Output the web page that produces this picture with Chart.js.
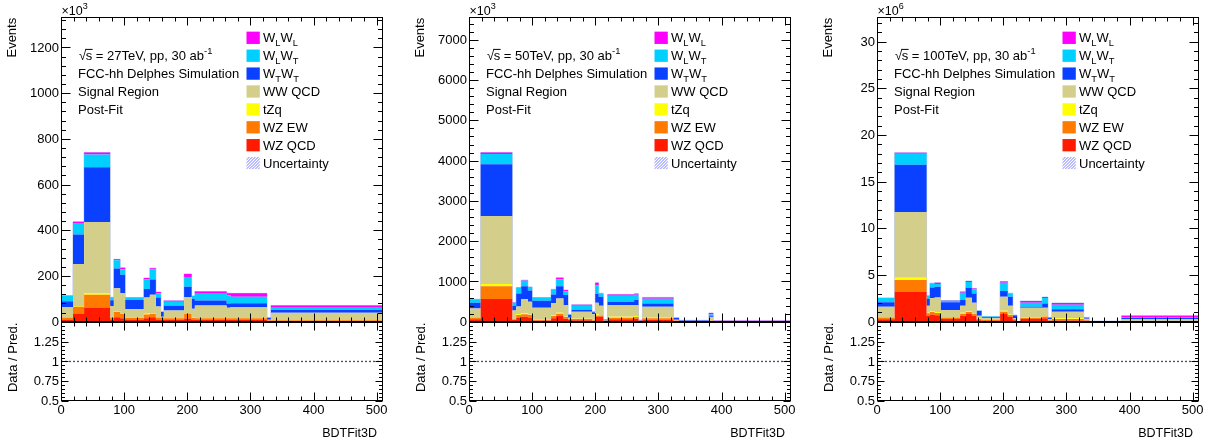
<!DOCTYPE html>
<html><head><meta charset="utf-8">
<script src="https://cdn.jsdelivr.net/npm/chart.js@4.4.1/dist/chart.umd.min.js"></script>
<style>
html,body{margin:0;padding:0;background:#fff;overflow:hidden;width:1205px;height:443px;position:relative;}
canvas{position:absolute;}
</style></head><body>
<canvas id="t0"></canvas><canvas id="t1"></canvas><canvas id="t2"></canvas>
<canvas id="r0"></canvas><canvas id="r1"></canvas><canvas id="r2"></canvas>
<script>
// ---------------- data ----------------
const seriesLabels = ['WZ QCD', 'WZ EW', 'tZq', 'WW QCD', 'W_TW_T', 'W_LW_T', 'W_LW_L'];
const energies = ['27TeV', '50TeV', '100TeV'];
const yExponents = ['3', '3', '6'];
const xTickLabels = [0, 100, 200, 300, 400, 500];
const ratioTickLabels = [0.5, 0.75, 1, 1.25];

// sqrt(s) = 27 TeV  (Events x10^3)
const edges27 = [0, 19, 36.6, 77.8, 83.7, 93.7, 101.6, 131.2, 140.7, 150.2, 158.1, 162.9, 195, 206.8, 212, 262.3, 268.6, 326.2, 332.5, 510];
const wzQCD27 = [10, 36, 62, 10, 19, 15, 10, 15, 20, 10, 8, 7, 14, 8, 7, 7, 7, 3, 3];
const wzEW27  = [8, 29, 56, 8, 25, 20, 7, 16, 15, 8, 10, 8, 22, 8, 8, 8, 8, 3, 3];
const tZq27   = [1, 4, 8, 1, 3, 1, 1, 4, 3, 1, 1, 1, 2, 1, 1, 1, 1, 0, 1];
const wwQCD27 = [45, 183, 310, 50, 99, 88, 37, 71, 80, 47, 3, 33, 70, 40, 55, 45, 48, 2, 32];
const wTwT27  = [26, 130, 240, 25, 87, 81, 41, 37, 67, 40, 20, 21, 45, 43, 22, 19, 17, 8, 12];
const wLwT27  = [23, 50, 56, 12, 36, 25, 9, 42, 43, 18, 2, 17, 43, 12, 29, 36, 28, 2, 10];
const wLwL27  = [1, 5, 8, 1, 4, 6, 1, 6, 6, 6, 0, 5, 13, 1, 10, 9, 15, 0, 10];
const yTicks27 = [0, 200, 400, 600, 800, 1000, 1200];

// sqrt(s) = 50 TeV  (Events x10^3)
const edges50 = [0, 18.5, 68.5, 74.8, 82.7, 93.2, 100, 130, 138, 149.5, 156.9, 162.6, 194.8, 200, 205.3, 212.7, 219.5, 261.6, 268.4, 274.7, 323.7, 332.6, 380, 386.8, 510];
const wzQCD50 = [58, 565, 40, 107, 124, 107, 25, 83, 141, 75, 40, 33, 20, 124, 124, 15, 58, 75, 10, 50, 20, 5, 15, 2];
const wzEW50  = [37, 315, 20, 58, 58, 58, 25, 57, 57, 41, 25, 33, 15, 33, 33, 10, 41, 41, 8, 33, 10, 4, 10, 2];
const tZq50   = [5, 55, 3, 25, 25, 10, 16, 25, 25, 8, 3, 5, 2, 25, 5, 1, 25, 25, 1, 16, 1, 0, 1, 0];
const wwQCD50 = [230, 1690, 218, 190, 355, 321, 281, 297, 355, 289, 30, 177, 150, 289, 234, 5, 289, 272, 5, 273, 20, 8, 90, 8];
const wTwT50  = [140, 1285, 115, 322, 321, 280, 173, 215, 305, 248, 70, 41, 50, 214, 224, 15, 82, 124, 12, 82, 40, 8, 20, 2];
const wLwT50  = [83, 255, 74, 140, 132, 83, 75, 123, 174, 91, 12, 107, 12, 223, 82, 4, 149, 132, 3, 116, 8, 7, 45, 3];
const wLwL50  = [5, 35, 5, 5, 17, 5, 5, 5, 33, 33, 2, 25, 1, 58, 5, 0, 33, 25, 1, 33, 1, 1, 35, 8];
const yTicks50 = [0, 1000, 2000, 3000, 4000, 5000, 6000, 7000];

// sqrt(s) = 100 TeV  (Events x10^6)
const edges100 = [0, 28, 78.5, 83.8, 91.2, 100.8, 131.6, 140.6, 150.2, 157.6, 165.6, 195, 207, 215, 221.8, 227.1, 261.6, 270.7, 277, 327.4, 336, 387.4, 510];
const wzQCD100 = [0.25, 3.18, 0.6, 0.78, 0.68, 0.29, 0.61, 0.82, 0.64, 0.15, 0.08, 0.82, 0.53, 0.15, 0, 0.29, 0.36, 0.08, 0.14, 0.05, 0.01, 0.02];
const wzEW100  = [0.2, 1.28, 0.3, 0.25, 0.25, 0.16, 0.25, 0.21, 0.22, 0.15, 0.1, 0.25, 0.2, 0.1, 0, 0.14, 0.2, 0.07, 0.15, 0.1, 0.03, 0.04];
const tZq100   = [0.02, 0.25, 0.05, 0.07, 0.1, 0.02, 0.1, 0.11, 0.07, 0.02, 0.01, 0.11, 0.05, 0.01, 0, 0.07, 0.04, 0.01, 0.07, 0.01, 0, 0.01];
const wwQCD100 = [1.14, 7.05, 0.75, 1.43, 1.57, 0.78, 0.75, 1.43, 1.1, 0.32, 0.18, 1.49, 0.93, 0.1, 0, 1.0, 0.9, 0.1, 0.71, 0.15, 0.01, 0.22];
const wTwT100  = [0.46, 5.06, 0.75, 1.14, 1.14, 0.82, 0.61, 1.07, 1.0, 0.5, 0.1, 0.61, 0.96, 0.3, 0, 0.1, 0.46, 0.15, 0.25, 0.1, 0.01, 0.11];
const wLwT100  = [0.46, 1.17, 0.3, 0.43, 0.29, 0.18, 0.78, 0.6, 0.43, 0.04, 0.08, 0.89, 0.36, 0.05, 0, 0.43, 0.57, 0.04, 0.5, 0.05, 0, 0.11];
const wLwL100  = [0.02, 0.11, 0.02, 0.03, 0.14, 0.02, 0.11, 0.11, 0.1, 0, 0.01, 0.14, 0.02, 0, 0, 0.18, 0.11, 0, 0.18, 0, 0, 0.14];
const yTicks100 = [0, 5, 10, 15, 20, 25, 30];

// ratio reference line
const ratioX = [0, 510];
const ratioY = [1, 1];

// ---------------- style ----------------
const FONT = '"Liberation Sans", Arial, Helvetica, sans-serif';
const seriesColors = ['#ff1a00', '#ff7a00', '#ffff00', '#d3cf8b', '#0a40ff', '#00d0ff', '#ff00ff'];
const panelCfg = [
  { L: 61.2,  edges: edges27,  series: [wzQCD27, wzEW27, tZq27, wwQCD27, wTwT27, wLwT27, wLwL27], yTicks: yTicks27, yMax: 1332, yMajor: 200, yMinor: 40 },
  { L: 469.3, edges: edges50,  series: [wzQCD50, wzEW50, tZq50, wwQCD50, wTwT50, wLwT50, wLwL50], yTicks: yTicks50, yMax: 7560, yMajor: 1000, yMinor: 200 },
  { L: 876.7, edges: edges100, series: [wzQCD100, wzEW100, tZq100, wwQCD100, wTwT100, wLwT100, wLwL100], yTicks: yTicks100, yMax: 32.6, yMajor: 5, yMinor: 1 }
];
const FRAME_W = 322, AXW = 60, PADR = 6, TOP_Y = 17.3, BOT_Y = 321.7, R_TOP = 322.2, R_BOT = 400.7;

function stepData(edges, vals) {
  const pts = vals.map((v, i) => ({ x: edges[i], y: v }));
  pts.push({ x: edges[edges.length - 1], y: vals[vals.length - 1] });
  return pts;
}

function rich(ctx, x, y, parts, size) {
  for (const [t, k] of parts) {
    const fs = k === 'n' ? size : size * 0.72;
    const dy = k === 'sub' ? size * 0.3 : (k === 'sup' ? -size * 0.45 : 0);
    ctx.font = fs + 'px ' + FONT;
    ctx.fillText(t, x, y + dy);
    x += ctx.measureText(t).width;
  }
  return x;
}
function labelParts(lbl) {
  if (lbl.startsWith('W_')) {
    return [['W', 'n'], [lbl[2], 'sub'], ['W', 'n'], [lbl[5], 'sub']];
  }
  return [[lbl, 'n']];
}

const isMult = (v, s) => Math.abs(v / s - Math.round(v / s)) < 1e-6;

const rootFrame = {
  id: 'rootFrame',
  afterDatasetsDraw(chart, args, o) {
    const { ctx, chartArea: a, scales } = chart;
    const xs = scales.x, ys = scales.y;
    ctx.save();
    ctx.strokeStyle = '#000';
    ctx.lineWidth = 1;
    const l = Math.round(a.left) + 0.5, r = Math.round(a.right) - 0.5;
    const t = Math.round(a.top) + 0.5, b = Math.round(a.bottom) - 0.5;
    ctx.strokeRect(l, t, r - l, b - t);
    ctx.beginPath();
    const nx = Math.round((xs.max - xs.min) / o.xMinor);
    for (let i = 0; i <= nx; i++) {
      const v = xs.min + i * o.xMinor;
      const len = isMult(v, o.xMajor) ? o.xLen[0] : o.xLen[1];
      const px = Math.round(xs.getPixelForValue(v)) + 0.5;
      ctx.moveTo(px, b); ctx.lineTo(px, b - len);
      ctx.moveTo(px, t); ctx.lineTo(px, t + len);
    }
    const ny = Math.floor((ys.max - ys.min) / o.yMinor + 1e-6);
    for (let i = 0; i <= ny; i++) {
      const v = ys.min + i * o.yMinor;
      const len = isMult(v - (o.yBase || 0), o.yMajor) ? o.yLen[0] : o.yLen[1];
      const py = Math.round(ys.getPixelForValue(v)) + 0.5;
      ctx.moveTo(l, py); ctx.lineTo(l + len, py);
      ctx.moveTo(r, py); ctx.lineTo(r - len, py);
    }
    ctx.stroke();
    ctx.restore();
  },
  afterDraw(chart, args, o) {
    const { ctx, chartArea: a, scales } = chart;
    const xs = scales.x, ys = scales.y;
    ctx.save();
    ctx.fillStyle = '#000';
    // y tick labels
    ctx.font = '13px ' + FONT;
    ctx.textAlign = 'right';
    ctx.textBaseline = 'middle';
    o.yLabels.forEach(v => ctx.fillText(String(v), a.left - 2, ys.getPixelForValue(v) + 0.5));
    ctx.textAlign = 'left';
    ctx.textBaseline = 'alphabetic';
    if (o.kind === 'top') {
      rich(ctx, a.left + 0.5, a.top - 2.5, [['\u00d710', 'n'], [o.exp, 'sup']], 12.5);
      ctx.save();
      ctx.translate(a.left - 48.5, a.top + 0.5);
      ctx.rotate(-Math.PI / 2);
      ctx.font = '13px ' + FONT;
      ctx.textAlign = 'right';
      ctx.textBaseline = 'middle';
      ctx.fillText('Events', 0, 0);
      ctx.restore();
      // annotation
      const ax = a.left + 18, ay0 = a.top + 38 + 4.6, dy = 17.9;
      ctx.font = '13px ' + FONT;
      ctx.fillText('\u221a', ax, ay0);
      const sx = ax + ctx.measureText('\u221a').width - 0.5;
      ctx.fillText('s', sx, ay0);
      const sw = ctx.measureText('s').width;
      ctx.beginPath(); ctx.lineWidth = 1; ctx.strokeStyle = '#000';
      ctx.moveTo(sx - 0.5, ay0 - 10.5); ctx.lineTo(sx + sw + 0.5, ay0 - 10.5); ctx.stroke();
      rich(ctx, sx + sw, ay0, [[' = ' + o.energy + ', pp, 30 ab', 'n'], ['-1', 'sup']], 13);
      ctx.font = '13px ' + FONT;
      ctx.fillText('FCC-hh Delphes Simulation', a.left + 17, ay0 + dy);
      ctx.fillText('Signal Region', a.left + 17, ay0 + 2 * dy);
      ctx.fillText('Post-Fit', a.left + 17, ay0 + 3 * dy);
      // legend
      const bx = a.left + 185.5, bw = 13.3, bh = 12.3, tx = a.left + 202;
      const entries = [];
      for (let i = seriesLabels.length - 1; i >= 0; i--) entries.push([seriesLabels[i], seriesColors[i]]);
      entries.push(['Uncertainty', null]);
      entries.forEach(([lbl, col], i) => {
        const cy = a.top + 20.5 + i * 17.9;
        const by = cy - bh / 2;
        if (col) {
          ctx.fillStyle = col;
          ctx.fillRect(bx, by, bw, bh);
        } else {
          ctx.save();
          ctx.beginPath(); ctx.rect(bx, by, bw, bh); ctx.clip();
          ctx.strokeStyle = 'rgba(80,80,255,0.75)'; ctx.lineWidth = 1;
          ctx.beginPath();
          for (let k = -bh; k < bw + bh; k += 3) { ctx.moveTo(bx + k, by + bh); ctx.lineTo(bx + k + bh, by); }
          ctx.stroke();
          ctx.restore();
        }
        ctx.fillStyle = '#000';
        rich(ctx, tx, cy + 4.6, labelParts(lbl), 13);
      });
    } else {
      // x tick labels
      ctx.font = '13px ' + FONT;
      ctx.textAlign = 'center';
      ctx.textBaseline = 'middle';
      xTickLabels.forEach(v => ctx.fillText(String(v), xs.getPixelForValue(v), a.bottom + 9.5));
      ctx.save();
      ctx.translate(a.left - 47.5, a.top + 0.5);
      ctx.rotate(-Math.PI / 2);
      ctx.textAlign = 'right';
      ctx.fillText('Data / Pred.', 0, 0);
      ctx.restore();
      ctx.font = '12.5px ' + FONT;
      ctx.textAlign = 'right';
      ctx.fillText('BDTFit3D', a.right - 6, a.bottom + 32.5);
    }
    ctx.restore();
  }
};
Chart.register(rootFrame);

const hiddenAxis = (extra) => Object.assign({
  grid: { display: false, drawTicks: false }, border: { display: false }, ticks: { display: false }
}, extra);

function makeTop(idx) {
  const p = panelCfg[idx];
  const cv = document.getElementById('t' + idx);
  const W = AXW + FRAME_W + PADR, H = 334;
  cv.width = W; cv.height = H;
  cv.style.left = (p.L - AXW) + 'px'; cv.style.top = '0px';
  cv.style.width = W + 'px'; cv.style.height = H + 'px';
  const datasets = p.series.map((vals, i) => ({
    label: seriesLabels[i],
    data: stepData(p.edges, vals),
    backgroundColor: seriesColors[i],
    borderWidth: 0, pointRadius: 0, stepped: true, tension: 0,
    fill: i === 0 ? 'origin' : '-1',
    stack: 'mc'
  }));
  const totals = p.edges.slice(0, -1).map((_, b) => p.series.reduce((s, arr) => s + arr[b], 0));
  datasets.push({
    label: 'Uncertainty', data: stepData(p.edges, totals),
    borderColor: 'rgba(130,150,230,0.55)', borderWidth: 1, pointRadius: 0,
    stepped: true, fill: false, stack: 'unc'
  });
  new Chart(cv, {
    type: 'line',
    data: { datasets },
    options: {
      responsive: false, animation: false, devicePixelRatio: 1,
      layout: { padding: { left: 0, top: TOP_Y, right: PADR, bottom: H - BOT_Y } },
      plugins: {
        legend: { display: false }, tooltip: { enabled: false },
        rootFrame: { kind: 'top', exp: yExponents[idx], energy: energies[idx], yLabels: p.yTicks,
          xMajor: 100, xMinor: 20, xLen: [8, 4], yMajor: p.yMajor, yMinor: p.yMinor, yLen: [9, 4.5] }
      },
      scales: {
        x: { type: 'linear', min: 0, max: 510, display: false },
        y: hiddenAxis({ type: 'linear', stacked: true, min: 0, max: p.yMax, afterFit: s => { s.width = AXW; } })
      }
    }
  });
}

function makeRatio(idx) {
  const p = panelCfg[idx];
  const cv = document.getElementById('r' + idx);
  const W = AXW + FRAME_W + PADR, top = 318, H = 443 - top;
  cv.width = W; cv.height = H;
  cv.style.left = (p.L - AXW) + 'px'; cv.style.top = top + 'px';
  cv.style.width = W + 'px'; cv.style.height = H + 'px';
  new Chart(cv, {
    type: 'line',
    data: { datasets: [{
      label: 'ratio', data: ratioX.map((x, i) => ({ x, y: ratioY[i] })),
      borderColor: '#4a4a6e', borderWidth: 1.3, borderDash: [2, 2], pointRadius: 0, fill: false
    }] },
    options: {
      responsive: false, animation: false, devicePixelRatio: 1,
      layout: { padding: { left: 0, top: R_TOP - top, right: PADR, bottom: 0 } },
      plugins: {
        legend: { display: false }, tooltip: { enabled: false },
        rootFrame: { kind: 'ratio', yLabels: ratioTickLabels, xMajor: 100, xMinor: 20, xLen: [8, 4], yMajor: 0.25, yMinor: 0.05, yBase: 0.5, yLen: [7, 3.5] }
      },
      scales: {
        x: hiddenAxis({ type: 'linear', min: 0, max: 510, afterFit: s => { s.height = H - (R_BOT - top); } }),
        y: hiddenAxis({ type: 'linear', min: 0.5, max: 1.5, afterFit: s => { s.width = AXW; } })
      }
    }
  });
}

[0, 1, 2].forEach(i => { makeTop(i); makeRatio(i); });
</script>
</body></html>
